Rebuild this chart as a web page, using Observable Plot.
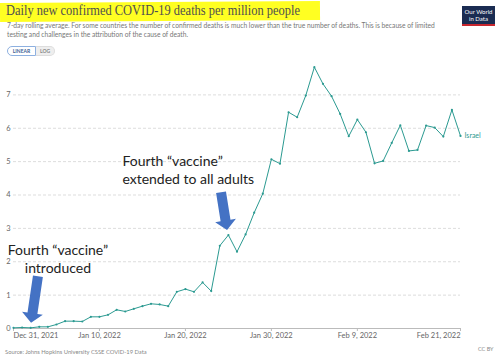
<!DOCTYPE html>
<html><head><meta charset="utf-8">
<script src="https://cdn.jsdelivr.net/npm/d3@7"></script>
<script src="https://cdn.jsdelivr.net/npm/@observablehq/plot@0.6"></script>
<style>
body{margin:0;background:#fff;}
#wrap{position:relative;width:500px;height:360px;overflow:hidden;font-family:Lato,sans-serif;}
#hl{position:absolute;left:0;top:2px;width:320px;height:19px;background:#ffff22;transform:rotate(-0.4deg);}
#title{position:absolute;left:6px;top:3px;font-family:"Liberation Serif",serif;font-size:13.6px;color:#4f4f4f;white-space:nowrap;transform:scaleX(0.915);transform-origin:0 0;}
#sub{position:absolute;left:7px;top:21px;width:445px;font-size:6.7px;line-height:8.6px;color:#777;}
#toggle{position:absolute;left:7px;top:46px;height:10px;font-size:5px;font-weight:bold;display:flex;}
#toggle span{display:flex;align-items:center;justify-content:center;height:8px;}
#toggle .on{width:27px;border:1px solid #8db0e0;border-radius:6px 0 0 6px;color:#3a5f95;background:#fff;}
#toggle .off{width:18px;border:1px solid #ddd;border-left:none;border-radius:0 6px 6px 0;color:#888;background:#eee;}
#logo{position:absolute;left:462px;top:6px;width:33px;height:18px;background:#1a2c52;border-bottom:2px solid #c8262e;color:#fff;font-size:6px;line-height:7px;text-align:center;display:flex;align-items:center;justify-content:center;}
#chart{position:absolute;left:0;top:58px;}
#src{position:absolute;left:5px;top:348px;font-size:5.8px;color:#888;}
#cc{position:absolute;left:478px;top:346px;font-size:5.5px;color:#888;}
</style></head><body>
<div id="wrap">
 <div id="hl"></div>
 <div id="title">Daily new confirmed COVID-19 deaths per million people</div>
 <div id="sub">7-day rolling average. For some countries the number of confirmed deaths is much lower than the true number of deaths. This is because of limited testing and challenges in the attribution of the cause of death.</div>
 <div id="toggle"><span class="on">LINEAR</span><span class="off">LOG</span></div>
 <div id="logo"><div>Our World<br>in Data</div></div>
 <div id="chart"></div>
 <div id="src">Source: Johns Hopkins University CSSE COVID-19 Data</div>
 <div id="cc">CC BY</div>
</div>
<script>
const seriesName = "Israel";
const startDate = "2021-12-31";
const endDate = "2022-02-21";
const values = [0.02,0.03,0.02,0.05,0.05,0.12,0.22,0.22,0.21,0.35,
                0.35,0.41,0.56,0.51,0.59,0.67,0.74,0.72,0.67,1.10,
                1.18,1.10,1.38,1.12,2.48,2.80,2.30,2.82,3.47,4.04,
                5.07,4.94,6.48,6.33,6.98,7.83,7.33,6.96,6.43,5.76,
                6.26,5.88,4.95,5.02,5.56,6.09,5.32,5.35,6.08,6.02,
                5.75,6.55,5.77];
const yTicks = [0,1,2,3,4,5,6,7];
const xTicks = ["2021-12-31","2022-01-10","2022-01-20","2022-01-30","2022-02-09","2022-02-21"];
const annotations = [
  {date:"2022-01-05T04:00Z", value:2.1, text:"Fourth \u201cvaccine\u201d\nintroduced", anchor:"middle"},
  {date:"2022-01-12T16:00Z", value:4.78, text:"Fourth \u201cvaccine\u201d\nextended to all adults", anchor:"start"}
];
const arrows = [
  {fromDate:"2022-01-02T21:36Z", fromValue:1.55, toDate:"2022-01-02T02:24Z", toValue:0.16},
  {fromDate:"2022-01-24T04:48Z", fromValue:4.07, toDate:"2022-01-24T21:36Z", toValue:2.94}
];

const lineColor = "#2b9a91";
const start = new Date(startDate + "T00:00Z");
const data = values.map((v, i) => ({date: d3.utcDay.offset(start, i), value: v}));
const tickDates = xTicks.map(d => new Date(d + "T00:00Z"));
const fmt = d3.utcFormat("%b %-d, %Y");
const annData = annotations.map(a => ({...a, d: new Date(a.date)}));

function blockArrows(index, scales) {
  const g = d3.create("svg:g");
  for (const a of arrows) {
    const x1 = scales.x(new Date(a.fromDate)), y1 = scales.y(a.fromValue);
    const x2 = scales.x(new Date(a.toDate)), y2 = scales.y(a.toValue);
    const len = Math.hypot(x2 - x1, y2 - y1);
    const ux = (x2 - x1) / len, uy = (y2 - y1) / len;
    const nx = -uy, ny = ux;
    const sw = 5, hw = 10.5, hl = 9.5;
    const bx = x2 - ux * hl, by = y2 - uy * hl;
    const pts = [
      [x1 + nx*sw, y1 + ny*sw], [bx + nx*sw, by + ny*sw], [bx + nx*hw, by + ny*hw],
      [x2, y2], [bx - nx*hw, by - ny*hw], [bx - nx*sw, by - ny*sw], [x1 - nx*sw, y1 - ny*sw]
    ];
    g.append("polygon").attr("points", pts.map(p => p.join(",")).join(" "))
      .attr("fill", "#4472c4");
  }
  return g.node();
}

const plot = Plot.plot({
  width: 500,
  height: 290,
  marginLeft: 13,
  marginRight: 40,
  marginTop: 3,
  marginBottom: 20,
  style: {fontFamily: "Lato, sans-serif", background: "transparent", color: "#666", overflow: "visible"},
  x: {type: "utc", domain: [start, new Date(endDate + "T00:00Z")]},
  y: {domain: [0, 8]},
  marks: [
    Plot.ruleY(yTicks.filter(d => d > 0), {stroke: "#ddd", strokeDasharray: "3,2"}),
    Plot.axisY(yTicks, {tickSize: 0, tickPadding: 3, fontSize: 7.5, fill: "#666", label: null}),
    Plot.ruleY([0], {stroke: "#bbb"}),
    Plot.axisX(tickDates, {tickSize: 3, stroke: "#bbb", tickFormat: () => "", label: null}),
    Plot.text(tickDates.slice(0, 1), {x: d => d, frameAnchor: "bottom", dy: 9, text: d => fmt(d), textAnchor: "start", fontSize: 7.5, fill: "#666"}),
    Plot.text(tickDates.slice(1, -1), {x: d => d, frameAnchor: "bottom", dy: 9, text: d => fmt(d), textAnchor: "middle", fontSize: 7.5, fill: "#666"}),
    Plot.text(tickDates.slice(-1), {x: d => d, frameAnchor: "bottom", dy: 9, text: d => fmt(d), textAnchor: "end", fontSize: 7.5, fill: "#666"}),
    Plot.line(data, {x: "date", y: "value", stroke: lineColor, strokeWidth: 1}),
    Plot.dot(data, {x: "date", y: "value", r: 1.1, fill: lineColor, stroke: null}),
    Plot.text(data.slice(-1), {x: "date", y: "value", text: () => seriesName, dx: 4, textAnchor: "start", fontSize: 7, fill: lineColor}),
    Plot.text(annData.filter(a => a.anchor === "middle"), {x: "d", y: "value", text: "text", textAnchor: "middle", lineAnchor: "middle", lineHeight: 1.28, fontSize: 14, fill: "#222", fontFamily: "Lato, sans-serif"}),
    Plot.text(annData.filter(a => a.anchor === "start"), {x: "d", y: "value", text: "text", textAnchor: "start", lineAnchor: "middle", lineHeight: 1.3, fontSize: 14, fill: "#222", fontFamily: "Lato, sans-serif"}),
    blockArrows
  ]
});
document.getElementById("chart").appendChild(plot);
</script>
</body></html>
